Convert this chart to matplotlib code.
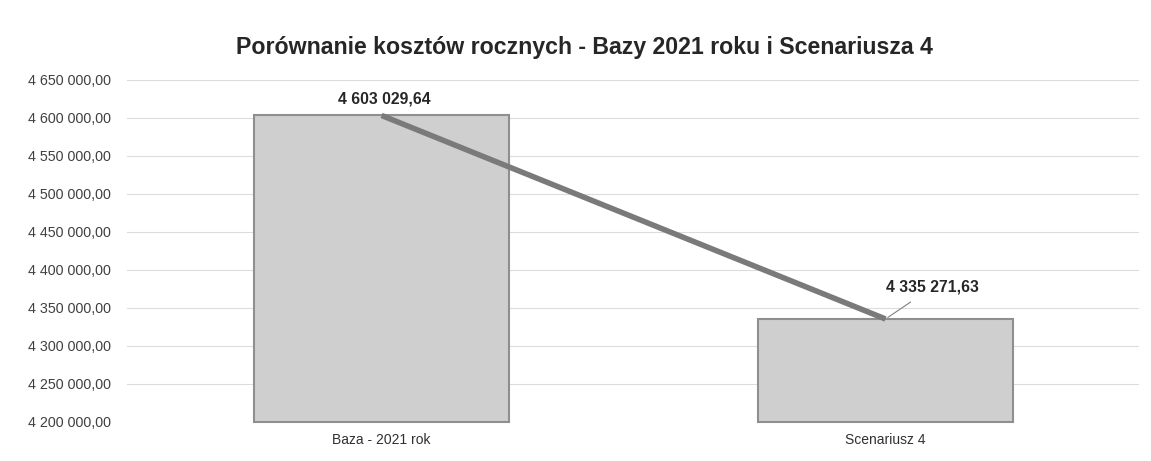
'''
Script used to plot comparison of yearly costs, base 2021 vs scenario 4
'''
import matplotlib
matplotlib.use('Agg')
import matplotlib.pyplot as plt
from matplotlib.ticker import FuncFormatter

categories = ['Baza - 2021 rok', 'Scenariusz 4']
costs      = [4603029.64, 4335271.63]
y_ticks    = [4200000, 4250000, 4300000, 4350000, 4400000, 4450000, 4500000, 4550000, 4600000, 4650000]
title      = 'Porównanie kosztów rocznych - Bazy 2021 roku i Scenariusza 4'

plt.rcParams['font.family'] = ['Liberation Sans', 'DejaVu Sans']
# ---------------------------------
def _fmt_pl(val : float, _pos=None) -> str:
    txt = f'{val:,.2f}'
    return txt.replace(',', ' ').replace('.', ',')
# ---------------------------------
def _plot() -> None:
    fig = plt.figure(figsize=(11.51, 4.61), dpi=100)
    ax  = fig.add_axes([0.110, 0.085, 0.880, 0.742])

    xpos   = list(range(len(categories)))
    base   = y_ticks[0]
    height = [val - base for val in costs]
    ax.bar(xpos, height, bottom=base, width=0.505, color='#cfcfcf', edgecolor='#8f8f8f', linewidth=1.5, zorder=2)
    ax.plot(xpos, costs, color='#7a7a7a', linewidth=4, solid_capstyle='butt', zorder=3)

    ax.set_ylim(y_ticks[0], y_ticks[-1])
    ax.set_xlim(-0.506, 1.504)
    ax.set_yticks(y_ticks)
    ax.yaxis.set_major_formatter(FuncFormatter(_fmt_pl))
    ax.set_xticks(xpos)
    ax.set_xticklabels(categories, fontsize=10, color='#303030')
    ax.tick_params(axis='y', length=0, pad=11, labelsize=10.3, labelcolor='#404040')
    ax.tick_params(axis='x', length=0, pad=8)

    ax.grid(axis='y', color='#dcdcdc', linewidth=0.8, zorder=0)
    for spine in ax.spines.values():
        spine.set_visible(False)
    for patch in ax.patches:
        patch.set_clip_on(False)

    ax.annotate(_fmt_pl(costs[0]), xy=(0, costs[0]), xytext=(2, 11.5), textcoords='offset points',
                ha='center', va='center', fontsize=11.3, fontweight='bold', color='#262626')
    ax.annotate(_fmt_pl(costs[1]), xy=(1, costs[1]), xytext=(34, 23), textcoords='offset points',
                ha='center', va='center', fontsize=11.3, fontweight='bold', color='#262626',
                arrowprops=dict(arrowstyle='-', color='#808080', lw=0.8, shrinkA=6, shrinkB=2))

    fig.text(0.508, 0.898, title, ha='center', va='center', fontsize=16.7, fontweight='bold', color='#262626')

    fig.savefig('out.png', dpi=100)
    plt.close(fig)
# ---------------------------------
def main():
    '''
    start here
    '''
    _plot()
# ---------------------------------
if __name__ == '__main__':
    main()
